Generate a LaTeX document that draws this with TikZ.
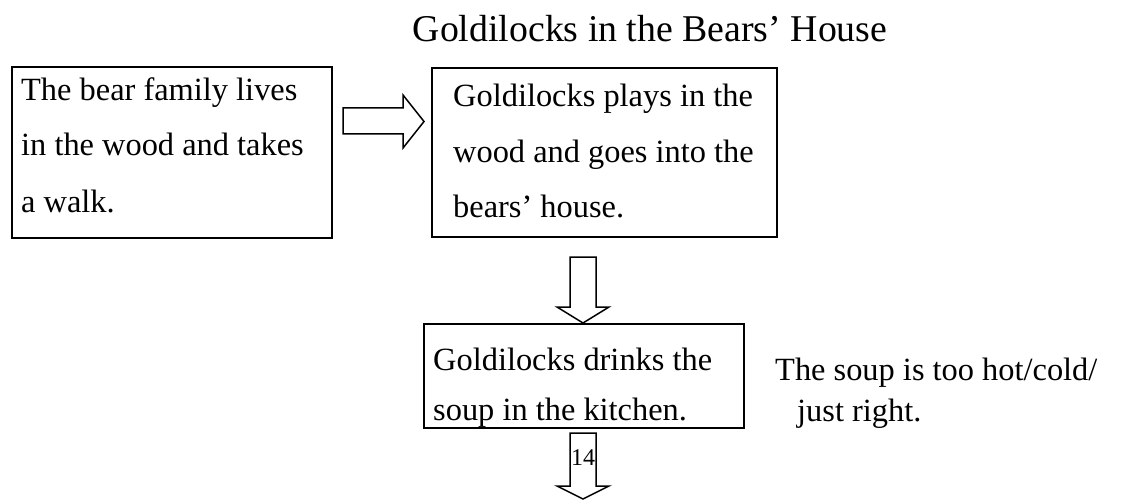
\documentclass[tikz,border=0pt]{standalone}
\usepackage{fontspec}
\setmainfont{Liberation Serif}
\tikzset{
  box/.style={draw=black, line width=1.6pt, anchor=north west, inner sep=0pt},
  txt/.style={anchor=base west, inner sep=0pt, font=\fontsize{32.4}{40}\selectfont},
  blockarrow/.style={draw=black, line width=1.5pt, line join=miter},
}
\begin{document}
\begin{tikzpicture}[x=1pt, y=-1pt]
\useasboundingbox (0,0) rectangle (1124,500);
% title
\node[anchor=base, inner sep=0pt, font=\fontsize{37.8}{44}\selectfont] (title) at (650,42) {Goldilocks in the Bears’ House};
% boxes
\node[box, minimum width=320pt, minimum height=171pt] (b1) at (11,66) {};
\node[box, minimum width=345pt, minimum height=169pt] (b2) at (431,67) {};
\node[box, minimum width=320pt, minimum height=104pt] (b3) at (423,323) {};
% box texts
\node[txt] (t1a) at (21,101) {The bear family lives};
\node[txt] (t1b) at (21,156) {in the wood and takes};
\node[txt] (t1c) at (21,212) {a walk.};
\node[txt] (t2a) at (453,107) {Goldilocks plays in the};
\node[txt] (t2b) at (453,162) {wood and goes into the};
\node[txt] (t2c) at (453,217) {bears’ house.};
\node[txt] (t3a) at (433,370) {Goldilocks drinks the};
\node[txt] (t3b) at (433,420) {soup in the kitchen.};
% side text
\node[txt] (s1) at (775,380) {The soup is too hot/cold/};
\node[txt] (s2) at (797,421) {just right.};
% block arrows
\draw[blockarrow] (343,108) -- (403,108) -- (403,95) -- (424,121.5) -- (403,148) -- (403,134) -- (343,134) -- cycle;
\draw[blockarrow] (570,257) -- (596,257) -- (596,307) -- (609,307) -- (583,323) -- (557,307) -- (570,307) -- cycle;
\draw[blockarrow] (570,433) -- (596,433) -- (596,486) -- (609,486) -- (583,499) -- (557,486) -- (570,486) -- cycle;
% page number
\node[inner sep=0pt, font=\fontsize{24}{26}\selectfont] (pg) at (583,458) {14};
\end{tikzpicture}
\end{document}
